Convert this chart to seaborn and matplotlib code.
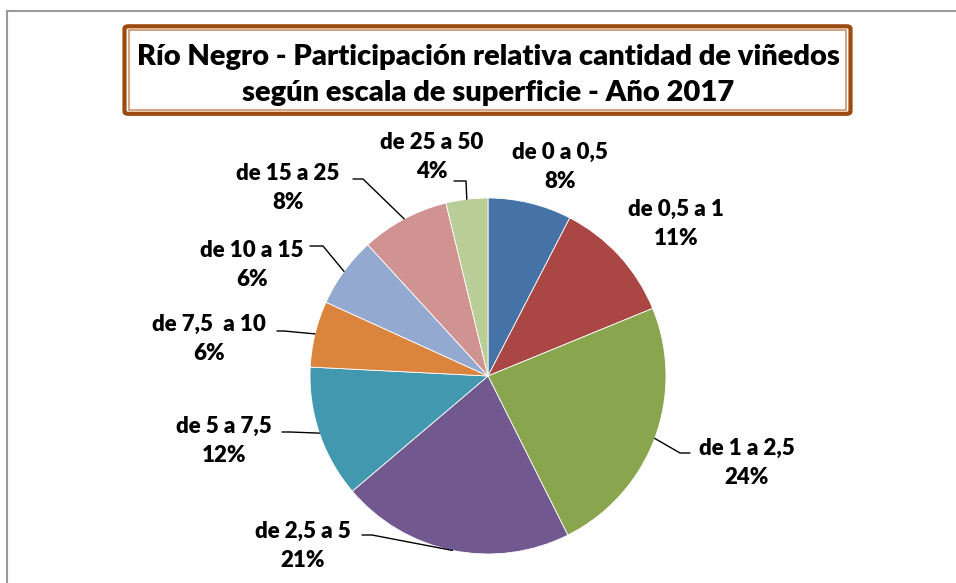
import numpy as np
import matplotlib.pyplot as plt
import seaborn as sns
from matplotlib.patches import FancyBboxPatch, Rectangle
from matplotlib.lines import Line2D

#%% Data --------------------------------------------------------------------
categories = ["de 0 a 0,5", "de 0,5 a 1", "de 1 a 2,5", "de 2,5 a 5", "de 5 a 7,5",
              "de 7,5  a 10", "de 10 a 15", "de 15 a 25", "de 25 a 50"]
shares = [7.6, 11.2, 23.8, 21.2, 12.0, 6.0, 6.4, 8.0, 3.8]
colors = ["#4572A7", "#AA4643", "#89A54E", "#71588F", "#4198AF",
          "#DB843D", "#93A9CF", "#D19392", "#B9CD96"]
title_lines = ["Río Negro - Participación relativa cantidad de viñedos",
               "según escala de superficie - Año 2017"]

#%% Layout (pixel positions of label blocks and leader ends) ------------------
label_pos = [(560, 167), (676, 224), (747, 463), (303, 546), (224, 441),
             (209, 339), (252, 265), (288, 188), (432, 157)]
leader_pts = [None, None,
              [(680, 453), (690, 453)],
              [(372, 535), (362, 535)],
              [(290, 432), (282, 432)],
              [(284, 331), (277, 331)],
              [(323, 246), (310, 246)],
              [(363, 179), (353, 179)],
              [(466, 181), (454, 181)]]

sns.set_theme(style="white")
plt.rcParams['font.family'] = ['Lato', 'DejaVu Sans']

W, H = 956, 583
fig = plt.figure(figsize=(W / 100, H / 100), dpi=100)

def fx(px):
    return px / W

def fy(py):
    return 1 - py / H

# outer gray chart frame
fig.add_artist(Rectangle((fx(7.3), fy(H + 20)), fx(W + 20), (H + 20 - 11.3) / H,
                         transform=fig.transFigure, fill=False,
                         edgecolor="#9a9a9a", linewidth=1.5))

# pie
cx, cy, r = 488, 376, 178
ax = fig.add_axes([fx(cx - r), (H - cy - r) / H, 2 * r / W, 2 * r / H])
wedges, _ = ax.pie(shares, colors=colors, startangle=90, counterclock=False,
                   radius=1, wedgeprops=dict(edgecolor="white", linewidth=0.6))
ax.set_xlim(-1, 1)
ax.set_ylim(-1, 1)
ax.set_aspect("equal")
ax.axis("off")

def to_data(px, py):
    return (px - cx) / r, (cy - py) / r

total = sum(shares)
for w, cat, val, pos, lead in zip(wedges, categories, shares, label_pos, leader_pts):
    pct = round(val / total * 100)
    lx, ly = to_data(*pos)
    ax.text(lx, ly, f"{cat}\n{pct}%", ha="center", va="center", fontsize=16,
            fontweight="heavy", color="black", linespacing=1.5, clip_on=False)
    if lead is not None:
        mid = np.deg2rad((w.theta1 + w.theta2) / 2)
        xs = [np.cos(mid)] + [to_data(*p)[0] for p in lead]
        ys = [np.sin(mid)] + [to_data(*p)[1] for p in lead]
        ax.add_line(Line2D(xs, ys, color="black", linewidth=1.0, clip_on=False))

# title box (double brown border)
fig.add_artist(FancyBboxPatch((fx(124.5), fy(113.8)), fx(850.5 - 124.5), (113.8 - 26.3) / H,
                              boxstyle="round,pad=0,rounding_size=0.004",
                              transform=fig.transFigure, facecolor="white",
                              edgecolor="#9C4A0E", linewidth=3.0))
fig.add_artist(Rectangle((fx(128.5), fy(110)), fx(846 - 128.5), (110 - 30) / H,
                         transform=fig.transFigure, fill=False,
                         edgecolor="#C98A5E", linewidth=1.1))
fig.text(fx(488), fy(57), title_lines[0], ha="center", va="center",
         fontsize=21, fontweight="heavy", color="black")
fig.text(fx(488), fy(93), title_lines[1], ha="center", va="center",
         fontsize=21, fontweight="heavy", color="black")

plt.savefig("out.png", dpi=100, facecolor="white")
